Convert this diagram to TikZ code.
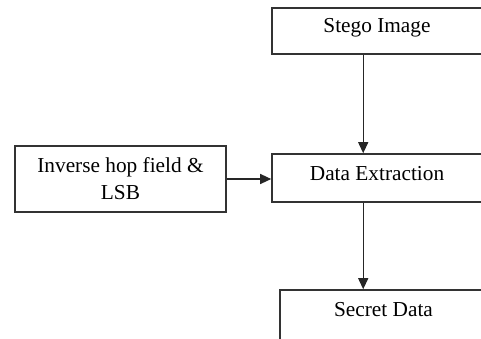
\documentclass[tikz,border=0pt]{standalone}
\usepackage{fontspec}
\setmainfont{Liberation Serif}
\usetikzlibrary{arrows.meta}

\tikzset{
  block/.style={draw=black!80,line width=1.6pt,rectangle,inner sep=0pt,
    font=\fontsize{21.3}{27}\selectfont},
  flow/.style={-{Triangle[length=11pt,width=10pt]},line width=1.2pt,black!85}
}

\begin{document}
\begin{tikzpicture}[x=1pt,y=-1pt]
 \useasboundingbox (0,0) rectangle (481,338);
 \fill[white] (0,0) rectangle (481,338);
 % boxes run off the right and bottom edges
 \clip (0,0) rectangle (481,338);
 \node[block,minimum width=214pt,text height=24pt,text depth=22pt] (stego) at (379,31) {Stego Image\hspace*{4pt}};
 \node[block,minimum width=214pt,text height=26pt,text depth=22pt] (extract) at (379,178) {Data Extraction\hspace*{4pt}};
 \node[block,minimum width=211pt,minimum height=66pt,align=center] (hop) at (120.5,179) {Inverse hop field \&\\LSB};
 \node[block,minimum width=210pt,text height=26pt,text depth=30pt] (secret) at (385,318) {Secret Data\hspace*{3pt}};
 \draw [flow] ([xshift=92pt]stego.south west) -- ([xshift=92pt]extract.north west);
 \draw [flow] (hop.east) -- (hop.east -| extract.west);
 \draw [flow] ([xshift=92pt]extract.south west) -- ([xshift=84pt]secret.north west);
\end{tikzpicture}
\end{document}
